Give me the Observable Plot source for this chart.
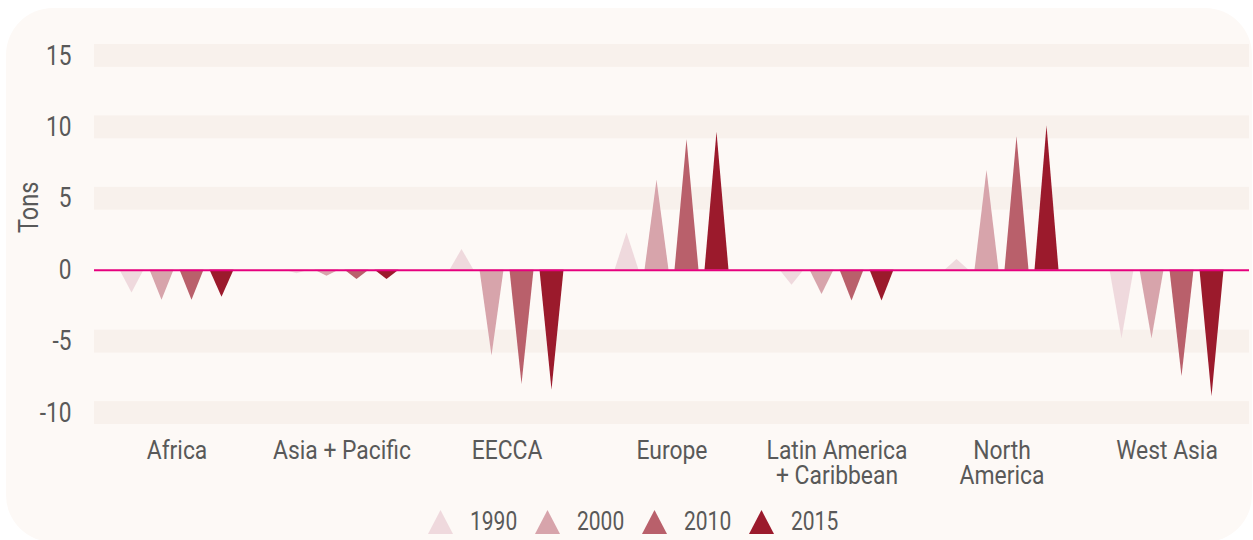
<!DOCTYPE html>
<html><head><meta charset="utf-8">
<script src="https://cdn.jsdelivr.net/npm/d3@7"></script>
<script src="https://cdn.jsdelivr.net/npm/@observablehq/plot@0.6"></script>
<style>
html,body{margin:0;padding:0;background:#fff;width:1253px;height:540px;overflow:hidden;font-family:Roboto,sans-serif;}
#card{position:absolute;left:6px;top:8px;width:1246px;height:534px;border-radius:47px;background:#fdf9f6;}
#chart{position:absolute;left:0;top:0;}
#legend{position:absolute;left:0;top:0;}
.item{position:absolute;top:510px;height:25px;width:100px;}
.item svg{position:absolute;left:0;top:0;}
.item span{position:absolute;left:42px;top:-3px;font-size:25px;line-height:30px;color:#595959;transform:scaleX(0.84);transform-origin:left center;white-space:nowrap;}
</style></head><body>
<div id="card"></div><div id="chart"></div><div id="legend"></div>
<script>
const regions = ["Africa", "Asia + Pacific", "EECCA", "Europe", "Latin America\n+ Caribbean", "North\nAmerica", "West Asia"];
const years = ["1990", "2000", "2010", "2015"];
const v1990 = [-1.6, -0.25, 1.45, 2.6, -1.05, 0.75, -4.8];
const v2000 = [-2.1, -0.42, -6.0, 6.3, -1.7, 7.0, -4.8];
const v2010 = [-2.1, -0.65, -8.0, 9.15, -2.15, 9.35, -7.45];
const v2015 = [-1.9, -0.65, -8.4, 9.65, -2.15, 10.1, -8.85];
const yTicks = [-10, -5, 0, 5, 10, 15];
const yearColors = ["#efd9dd", "#d7a4ab", "#b9606b", "#9b1a2c"];

const series = [v1990, v2000, v2010, v2015];
const STEP = 30 / 165, HALF = 12 / 165;
const pts = [];
regions.forEach((r, i) => series.forEach((vals, j) => {
  const c = i + 0.5 + (j - 1.5) * STEP;
  const key = r + "|" + years[j];
  pts.push({x: c - HALF, y: 0, year: years[j], key},
           {x: c, y: vals[i], year: years[j], key},
           {x: c + HALF, y: 0, year: years[j], key});
}));

const plot = Plot.plot({
  width: 1253, height: 500,
  marginLeft: 94, marginRight: 4, marginTop: 44, marginBottom: 76,
  style: {background: "transparent", fontFamily: "Roboto", color: "#595959", overflow: "visible"},
  x: {domain: [0, 7], axis: null},
  y: {domain: [-10.8, 15.8], axis: null},
  color: {domain: years, range: yearColors},
  marks: [
    Plot.rect(yTicks.filter(d => d !== 0), {x1: () => 0, x2: () => 7, y1: d => d - 0.8, y2: d => d + 0.8, fill: "#f8f1ec"}),
    Plot.areaY(pts, {x: "x", y1: 0, y2: "y", z: "key", fill: "year", curve: "linear"}),
    Plot.ruleY([0], {stroke: "#e6007e", strokeWidth: 2}),
    Plot.axisY({ticks: yTicks, tickSize: 0, tickPadding: 23, fontSize: 27,
      tickFormat: d => d < 0 ? "-" + Math.abs(d) : String(d), label: null}),
    Plot.axisX({ticks: regions.map((d, i) => i + 0.5), tickSize: 0, tickPadding: 17, fontSize: 26,
      lineHeight: 0.96, tickFormat: v => regions[Math.floor(v)], label: null}),
    Plot.text(["Tons"], {text: d => d, frameAnchor: "left", textAnchor: "middle", y: [4.4], dx: -65, rotate: -90, fontSize: 28, fill: "#595959"})
  ]
});

function condense(selector, s) {
  plot.querySelectorAll(selector).forEach(t => {
    let tr = t.getAttribute("transform");
    if (!tr) {
      const x = t.getAttribute("x") || 0, y = t.getAttribute("y") || 0;
      t.removeAttribute("x"); t.removeAttribute("y");
      tr = `translate(${x},${y})`;
    }
    t.setAttribute("transform", tr + ` scale(${s},1)`);
  });
}
condense('g[aria-label="y-axis tick label"] text', 0.84);
condense('g[aria-label="x-axis tick label"] text', 0.88);
condense('g[aria-label="text"] text', 0.84);

document.getElementById("chart").appendChild(plot);

const legend = document.getElementById("legend");
years.forEach((y, i) => {
  const d = document.createElement("div");
  d.className = "item";
  d.style.left = (428 + i * 107) + "px";
  d.innerHTML = `<svg width="25" height="24"><polygon points="0,24 12.5,0 25,24" fill="${yearColors[i]}"/></svg><span>${y}</span>`;
  legend.appendChild(d);
});
</script>
</body></html>
